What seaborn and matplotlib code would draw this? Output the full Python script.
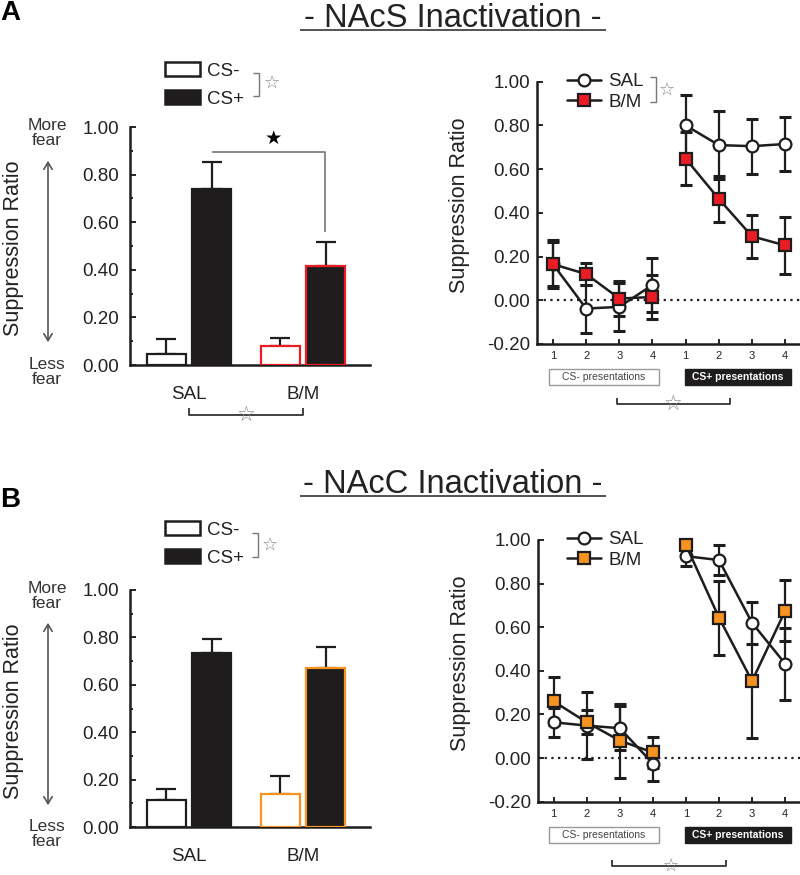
import numpy as np
import pandas as pd
import matplotlib
matplotlib.use("Agg")
import matplotlib.pyplot as plt
import seaborn as sns
from matplotlib.patches import Patch, Rectangle
from matplotlib.lines import Line2D

# ---------------- data ----------------
groups = ["SAL", "B/M"]
cs_levels = ["CS-", "CS+"]

# Panel A (NAcS) bar chart
a_bar_vals = {"SAL": [0.046, 0.74], "B/M": [0.08, 0.417]}
a_bar_err = {"SAL": [0.064, 0.115], "B/M": [0.035, 0.10]}
# Panel B (NAcC) bar chart
b_bar_vals = {"SAL": [0.114, 0.735], "B/M": [0.138, 0.669]}
b_bar_err = {"SAL": [0.046, 0.06], "B/M": [0.078, 0.09]}

trial_pos = [1, 2, 3, 4, 5, 6, 7, 8]
trial_labels = ["1", "2", "3", "4", "1", "2", "3", "4"]
trial_block = ["CS-"] * 4 + ["CS+"] * 4

a_sal = [0.165, -0.038, -0.03, 0.07, 0.80, 0.71, 0.705, 0.715]
a_sal_err = [0.10, 0.11, 0.11, 0.123, 0.14, 0.155, 0.125, 0.122]
a_bm = [0.165, 0.12, 0.008, 0.015, 0.648, 0.464, 0.293, 0.251]
a_bm_err = [0.11, 0.05, 0.08, 0.10, 0.12, 0.105, 0.098, 0.13]

b_sal = [0.164, 0.149, 0.137, -0.025, 0.926, 0.908, 0.62, 0.433]
b_sal_err = [0.066, 0.155, 0.10, 0.08, 0.045, 0.07, 0.095, 0.165]
b_bm = [0.26, 0.164, 0.08, 0.026, 0.977, 0.644, 0.353, 0.675]
b_bm_err = [0.11, 0.055, 0.17, 0.07, 0.02, 0.17, 0.26, 0.14]

RED = "#ec1c24"
ORANGE = "#f7931e"
DARK = "#1e1c1d"
TXT = "#222222"
GRAY = "#7a7a7a"

sns.set_style("ticks")
plt.rcParams["font.family"] = ["Liberation Sans", "DejaVu Sans"]

W, H = 800, 875
fig = plt.figure(figsize=(8, 8.75), dpi=100)


def fx(x):
    return x / W


def fy(y):
    return 1 - y / H


def add_ax(x0, ytop, x1, ybot):
    return fig.add_axes([fx(x0), fy(ybot), (x1 - x0) / W, (ybot - ytop) / H])


def fig_line(xs, ys, color=GRAY, lw=1.0):
    fig.add_artist(Line2D([fx(x) for x in xs], [fy(y) for y in ys], color=color,
                          lw=lw, transform=fig.transFigure, solid_capstyle="butt"))


def star(x, y, filled=False, size=14, color=None):
    fig.text(fx(x), fy(y), "★" if filled else "☆", ha="center", va="center",
             fontsize=size, color=color or ("black" if filled else "#8a8a8a"),
             family=["DejaVu Sans"])


def bar_panel(ax, vals, errs, accent):
    rows = []
    for g in groups:
        for i, c in enumerate(cs_levels):
            rows.append({"group": g, "cs": c, "value": vals[g][i], "err": errs[g][i]})
    df = pd.DataFrame(rows)
    sns.barplot(data=df, x="group", y="value", hue="cs", hue_order=cs_levels,
                order=groups, palette={"CS-": "white", "CS+": DARK},
                errorbar=None, width=0.8, gap=0.15, legend=False, ax=ax,
                linewidth=1.6, edgecolor=DARK, zorder=3)
    bar_conts = list(ax.containers)
    for ci, cont in enumerate(bar_conts):
        for gi, bar in enumerate(cont.patches):
            g = groups[gi]
            bar.set_edgecolor(DARK if g == "SAL" else accent)
            bar.set_linewidth(1.6)
            xc = bar.get_x() + bar.get_width() / 2
            v = vals[g][ci]
            e = errs[g][ci]
            ax.errorbar([xc], [v], yerr=[[0], [e]], fmt="none", ecolor=DARK,
                        elinewidth=1.6, capsize=7.5, capthick=1.6, zorder=2)
    ax.set_ylim(0, 1.0)
    ax.set_xlim(-0.518, 1.588)
    ax.set_yticks(np.arange(0, 1.01, 0.2))
    ax.set_yticklabels([f"{t:.2f}" for t in np.arange(0, 1.01, 0.2)])
    ax.set_yticks(np.arange(0.1, 1.0, 0.2), minor=True)
    ax.tick_params(axis="y", which="major", direction="in", length=4, width=1.4,
                   labelsize=13.5, pad=8, labelcolor=TXT)
    ax.tick_params(axis="y", which="minor", direction="in", length=2.5, width=1.4)
    ax.tick_params(axis="x", length=0, labelsize=13.5, pad=15, labelcolor=TXT)
    ax.set_xlabel("")
    ax.set_ylabel("Suppression Ratio", fontsize=15.5, color=TXT)
    ax.yaxis.set_label_coords(-0.44, 0.49)
    for s in ["top", "right"]:
        ax.spines[s].set_visible(False)
    for s in ["left", "bottom"]:
        ax.spines[s].set_linewidth(1.8)
        ax.spines[s].set_color(DARK)
    ax.patch.set_alpha(0)
    leg = ax.legend(handles=[Patch(facecolor="white", edgecolor=DARK, lw=1.8),
                             Patch(facecolor=DARK, edgecolor=DARK, lw=1.8)],
                    labels=cs_levels, frameon=False, fontsize=13.5,
                    handlelength=1.85, handleheight=0.8, handletextpad=0.4,
                    labelspacing=0.55, borderpad=0, borderaxespad=0,
                    loc="upper left", bbox_transform=fig.transFigure)
    for t in leg.get_texts():
        t.set_color(TXT)
    return leg


def line_panel(ax, sal, sal_err, bm, bm_err, accent):
    df = pd.DataFrame({"pos": trial_pos + trial_pos,
                       "value": sal + bm,
                       "err": sal_err + bm_err,
                       "block": trial_block + trial_block,
                       "group": ["SAL"] * 8 + ["B/M"] * 8})
    ax.axhline(0, color=DARK, lw=1.6, ls=(0, (1, 2)), zorder=1)
    for g, mk, fc, ms in [("SAL", "o", "white", 8.5), ("B/M", "s", accent, 8)]:
        d = df[df.group == g]
        ax.errorbar(d.pos, d.value, yerr=d.err, fmt="none", ecolor=DARK,
                    elinewidth=1.6, capsize=4.5, capthick=2.2, zorder=2)
        sns.lineplot(data=d, x="pos", y="value", units="block", estimator=None,
                     color=DARK, lw=1.8, marker=mk, markersize=ms,
                     markerfacecolor=fc, markeredgecolor=DARK,
                     markeredgewidth=1.6, ax=ax, zorder=3, legend=False,
                     clip_on=False)
    ax.set_ylim(-0.2, 1.0)
    ax.set_xlim(0.517, 8.45)
    ax.set_xticks(trial_pos)
    ax.set_xticklabels(trial_labels)
    yt = np.round(np.arange(-0.2, 1.01, 0.2), 2)
    ax.set_yticks(yt)
    ax.set_yticklabels([f"{t:.2f}" for t in yt])
    ax.tick_params(axis="y", direction="in", length=4, width=1.4, labelsize=13.5,
                   pad=5, labelcolor=TXT)
    ax.tick_params(axis="x", direction="in", length=3.5, width=1.4, labelsize=8,
                   pad=5, labelcolor=TXT)
    ax.set_xlabel("")
    ax.set_ylabel("Suppression Ratio", fontsize=15.5, color=TXT)
    ax.yaxis.set_label_coords(-0.255, 0.53)
    for s in ["top", "right"]:
        ax.spines[s].set_visible(False)
    for s in ["left", "bottom"]:
        ax.spines[s].set_linewidth(1.8)
        ax.spines[s].set_color(DARK)
    ax.patch.set_alpha(0)
    leg = ax.legend(handles=[Line2D([], [], color=DARK, lw=1.8, marker="o", markersize=8.5,
                                    markerfacecolor="white", markeredgecolor=DARK,
                                    markeredgewidth=1.6),
                             Line2D([], [], color=DARK, lw=1.8, marker="s", markersize=8,
                                    markerfacecolor=accent, markeredgecolor=DARK,
                                    markeredgewidth=1.6)],
                    labels=groups, frameon=False, fontsize=13.5,
                    handlelength=1.8, handletextpad=0.4, labelspacing=0.2,
                    borderpad=0, borderaxespad=0, loc="upper left",
                    bbox_transform=fig.transFigure)
    for t in leg.get_texts():
        t.set_color(TXT)
    return leg


def presentation_boxes(ytop, ybot):
    fig.add_artist(Rectangle((fx(549), fy(ybot)), (659 - 549) / W, (ybot - ytop) / H,
                             facecolor="white", edgecolor="#9a9a9a", lw=1.0,
                             transform=fig.transFigure))
    fig.text(fx(604), fy((ytop + ybot) / 2), "CS- presentations", ha="center", va="center",
             fontsize=7.5, color="#444444")
    fig.add_artist(Rectangle((fx(685), fy(ybot)), (791 - 685) / W, (ybot - ytop) / H,
                             facecolor=DARK, edgecolor=DARK, lw=1.0,
                             transform=fig.transFigure))
    fig.text(fx(738), fy((ytop + ybot) / 2), "CS+ presentations", ha="center", va="center",
             fontsize=7.5, color="white", fontweight="bold")


def fear_arrow(ytop_text, ybot_text, y0, y1):
    fig.text(fx(47), fy(ytop_text), "More\nfear", ha="center", va="center", fontsize=12.5,
             color="#333333", linespacing=1.0)
    fig.text(fx(47), fy(ybot_text), "Less\nfear", ha="center", va="center", fontsize=12.5,
             color="#333333", linespacing=1.0)
    fig.add_artist(matplotlib.patches.FancyArrowPatch(
        (fx(48), fy(y0)), (fx(48), fy(y1)), transform=fig.transFigure,
        arrowstyle="<->,head_length=5,head_width=3", color="#555555", lw=1.2))


def title(text, baseline, x0=300, x1=606):
    fig.text(fx((x0 + x1) / 2), fy(baseline), text, ha="center", va="baseline",
             fontsize=23.5, color=TXT)
    fig_line([x0, x1], [baseline + 3, baseline + 3], color="#444444", lw=1.3)


def bracket_h(x0, x1, y, ytip, starx, size=15):
    fig_line([x0, x0, x1, x1], [ytip, y, y, ytip], color="#333333", lw=1.3)
    star(starx, y, size=size)


def bracket_legend(x, y0, y1, sx, sy):
    fig_line([x - 6, x, x, x - 6], [y0, y0, y1, y1], color="#777777", lw=1.0)
    star(sx, sy, size=13)


# ---------------- Panel A ----------------
fig.text(fx(10), fy(13), "A", ha="center", va="center", fontsize=20, fontweight="bold",
         color="black")
title("- NAcS Inactivation -", 27)

axA1 = add_ax(130, 127, 370, 365)
legA1 = bar_panel(axA1, a_bar_vals, a_bar_err, RED)
legA1.set_bbox_to_anchor((fx(165), fy(62)), transform=fig.transFigure)
bracket_legend(259, 73, 96, 272, 83)
fear_arrow(133, 372, 158, 345)
# significance bracket between CS+ bars
fig_line([212, 325, 325], [152, 152, 232], color="#777777", lw=1.2)
star(273, 138, filled=True, size=14)
bracket_h(189, 303, 415, 408, 246)

axA2 = add_ax(537, 81.7, 800, 344)
legA2 = line_panel(axA2, a_sal, a_sal_err, a_bm, a_bm_err, RED)
legA2.set_bbox_to_anchor((fx(567), fy(73)), transform=fig.transFigure)
bracket_legend(656, 77, 102, 667, 90)
presentation_boxes(369, 385)
bracket_h(617, 730, 404, 398, 673)

# ---------------- Panel B ----------------
fig.text(fx(10), fy(500), "B", ha="center", va="center", fontsize=20, fontweight="bold",
         color="black")
title("- NAcC Inactivation -", 493)

axB1 = add_ax(130, 590, 370, 827)
legB1 = bar_panel(axB1, b_bar_vals, b_bar_err, ORANGE)
legB1.set_bbox_to_anchor((fx(165), fy(521)), transform=fig.transFigure)
bracket_legend(258, 533, 557, 270, 545)
fear_arrow(596, 834, 620, 808)

axB2 = add_ax(537.7, 540, 800, 801.7)
legB2 = line_panel(axB2, b_sal, b_sal_err, b_bm, b_bm_err, ORANGE)
legB2.set_bbox_to_anchor((fx(567), fy(531)), transform=fig.transFigure)
presentation_boxes(827, 843)
bracket_h(612, 726, 866, 860, 671, size=13)

fig.savefig("out.png", dpi=100)
